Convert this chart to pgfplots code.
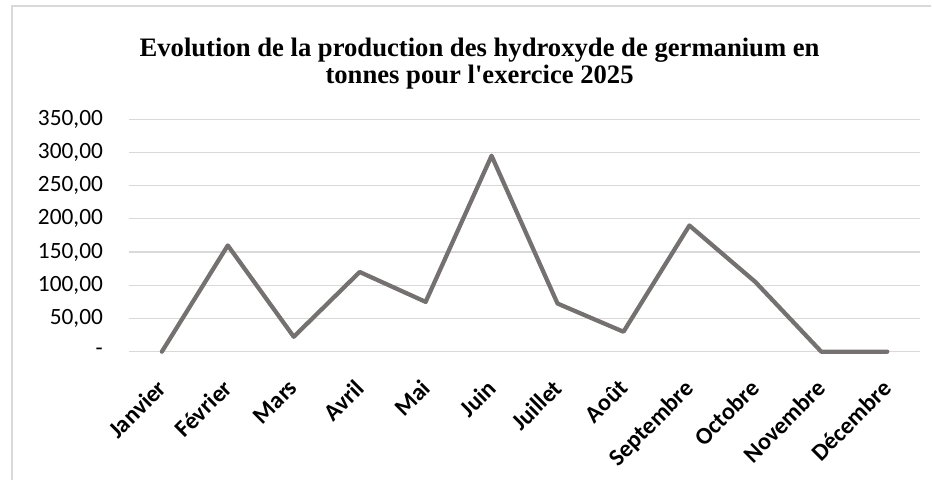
\documentclass[border=0pt]{standalone}
\usepackage{fontspec}
\setmainfont{Carlito}
\newfontfamily\titlefont{Liberation Serif}
\usepackage{pgfplots}
\pgfplotsset{compat=1.18}
\definecolor{linegray}{HTML}{767171}
\definecolor{gridgray}{HTML}{D9D9D9}

\begin{document}
\begin{tikzpicture}[x=0.75pt,y=0.75pt]
\path (0,0) rectangle (932,480);
\draw[gridgray, line width=1.2pt] (12,0) -- (12,474) -- (932,474);
\node[font=\titlefont\bfseries\fontsize{20}{20.5}\selectfont, align=center] at (480,416)
  {Evolution de la production des hydroxyde de germanium en\\tonnes pour l'exercice 2025};
\begin{axis}[
  at={(96.75pt,96pt)}, anchor=south west,
  scale only axis, width=594pt, height=174.5pt,
  xmin=-0.5, xmax=11.5, ymin=0, ymax=350,
  clip=false,
  axis line style={draw=none},
  major tick length=0pt,
  ymajorgrids, grid style={gridgray, line width=0.9pt},
  ytick={0,50,...,350},
  yticklabels={{-\hspace{1.1em}},{50,00},{100,00},{150,00},{200,00},{250,00},{300,00},{350,00}},
  y tick label style={font=\fontsize{17.5}{18}\selectfont, xshift=-16pt},
  xtick={0,...,11},
  xticklabels={Janvier,Février,Mars,Avril,Mai,Juin,Juillet,Août,Septembre,Octobre,Novembre,Décembre},
  x tick label style={font=\bfseries\fontsize{18}{18}\selectfont, xshift=-4.5pt, yshift=-15pt, rotate=45, anchor=north east},
]
\addplot[linegray, line width=3.2pt, line join=round, line cap=round] coordinates {
  (0,0) (1,160) (2,22.5) (3,120) (4,75) (5,295) (6,72.5) (7,30) (8,190) (9,105) (10,0) (11,0)
};
\end{axis}
\end{tikzpicture}
\end{document}
